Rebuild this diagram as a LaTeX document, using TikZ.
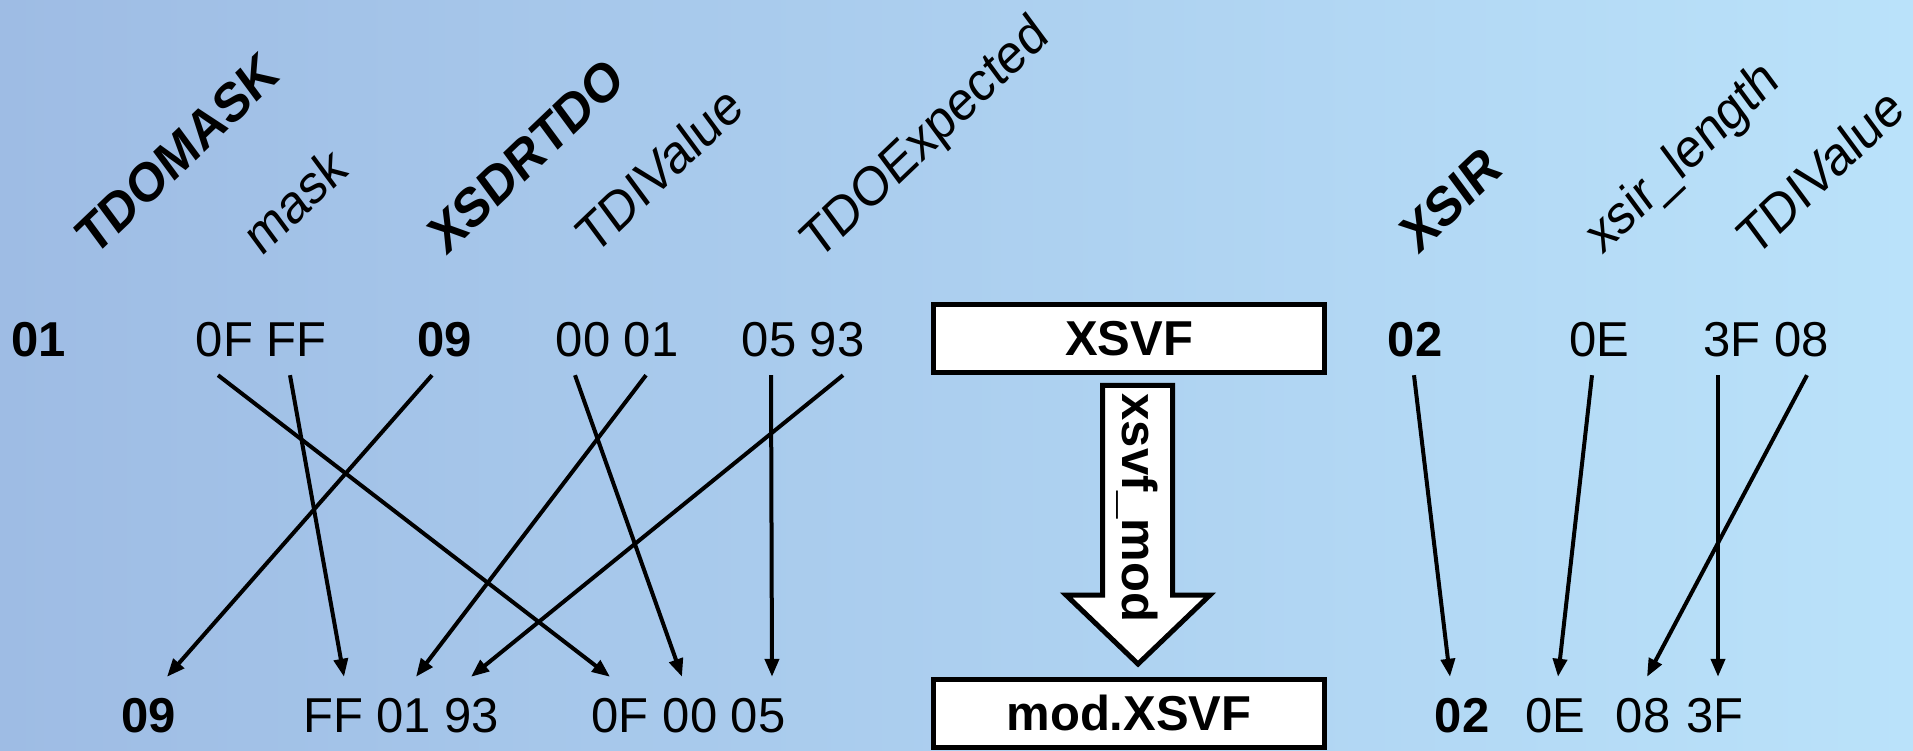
\documentclass[tikz,border=0pt]{standalone}
\usepackage{fontspec}
\setmainfont{Liberation Sans}
\usetikzlibrary{arrows.meta}
\definecolor{bgl}{RGB}{158,188,228}
\definecolor{bgr}{RGB}{186,226,250}
\begin{document}
\begin{tikzpicture}[x=1pt,y=1pt,
  num/.style={inner sep=0pt, anchor=base, font=\fontsize{49}{55}\selectfont, text height=36pt, text depth=0pt},
  numb/.style={num, font=\fontsize{49}{55}\selectfont\bfseries},
  lab/.style={inner sep=0pt, anchor=base west, xscale=0.88, rotate=40, font=\fontsize{55}{60}\selectfont},
  labb/.style={lab, font=\fontsize{55}{60}\selectfont\bfseries},
  conn/.style={line width=4pt, -{Triangle[length=18pt,width=14pt]}},
  box/.style={draw, line width=5pt, fill=white, minimum width=391pt, minimum height=68pt, inner sep=0pt, font=\fontsize{49}{55}\selectfont\bfseries},
  bigarrow/.style={draw, line width=5pt, fill=white, miter limit=10}
]
\useasboundingbox (0,0) rectangle (1913,750);
\shade[left color=bgl, right color=bgr] (0,0) rectangle (1913,750);

% rotated headers
\node[labb] (hTDOMASK) at (94,492) {TDOMASK};
\node[lab]  (hmask) at (261,492) {mask};
\node[labb] (hXSDRTDO) at (446,493) {XSDRTDO};
\node[lab]  (hTDIa) at (594,493) {TDIValue};
\node[lab]  (hTDOE) at (818,488) {TDOExpected};
\node[labb] (hXSIR) at (1418,494) {XSIR};
\node[lab]  (hxsirl) at (1602,494) {xsir\_length};
\node[lab]  (hTDIb) at (1755,491) {TDIValue};

% top row
\node[numb] (a01) at (39,393) {01};
\node[num] (a0F) at (224.5,393) {0F};
\node[num] (aFF) at (296.5,393) {FF};
\node[numb] (a09) at (445,393) {09};
\node[num] (a00) at (583,393) {00};
\node[num] (a01b) at (651,393) {01};
\node[num] (a05) at (769,393) {05};
\node[num] (a93) at (837,393) {93};
\node[numb] (a02) at (1415,393) {02};
\node[num] (a0E) at (1599,393) {0E};
\node[num] (a3F) at (1732,393) {3F};
\node[num] (a08) at (1801.5,393) {08};

% bottom row
\node[numb] (b09) at (149,18) {09};
\node[num] (bFF) at (333,18) {FF};
\node[num] (b01) at (404,18) {01};
\node[num] (b93) at (472,18) {93};
\node[num] (b0F) at (620,18) {0F};
\node[num] (b00) at (690,18) {00};
\node[num] (b05) at (758,18) {05};
\node[numb] (b02) at (1462,18) {02};
\node[num] (b0E) at (1555,18) {0E};
\node[num] (b08) at (1643,18) {08};
\node[num] (b3F) at (1715,18) {3F};

% connectors
\draw[conn] ([xshift=-6.5pt,yshift=-18pt]a0F.south) -- ([xshift=-10pt,yshift=19pt]b0F.north);
\draw[conn] ([xshift=-6.5pt,yshift=-18pt]aFF.south) -- ([xshift=11pt,yshift=19pt]bFF.north);
\draw[conn] ([xshift=-13pt,yshift=-18pt]a09.south) -- ([xshift=18pt,yshift=19pt]b09.north);
\draw[conn] ([xshift=-8pt,yshift=-18pt]a00.south) -- ([xshift=-8pt,yshift=19pt]b00.north);
\draw[conn] ([xshift=-5pt,yshift=-18pt]a01b.south) -- ([xshift=12pt,yshift=19pt]b01.north);
\draw[conn] ([xshift=2pt,yshift=-18pt]a05.south) -- ([xshift=14pt,yshift=19pt]b05.north);
\draw[conn] ([xshift=6pt,yshift=-18pt]a93.south) -- ([xshift=-1pt,yshift=19pt]b93.north);
\draw[conn] ([xshift=-1pt,yshift=-18pt]a02.south) -- ([xshift=-12pt,yshift=19pt]b02.north);
\draw[conn] ([xshift=-7pt,yshift=-18pt]a0E.south) -- ([xshift=3pt,yshift=19pt]b0E.north);
\draw[conn] ([xshift=-14pt,yshift=-18pt]a3F.south) -- ([xshift=3pt,yshift=19pt]b3F.north);
\draw[conn] ([xshift=5.5pt,yshift=-18pt]a08.south) -- ([xshift=4pt,yshift=19pt]b08.north);

% boxes
\node[box] (xsvf) at (1129,411.5) {XSVF};
\node[box] (modx) at (1129,37) {mod.XSVF};

% big hollow arrow
\draw[bigarrow] (1102.5,364.5) -- (1172.5,364.5) -- (1172.5,155) -- (1210,155)
  -- (1138,86) -- (1066,155) -- (1102.5,155) -- cycle;
\node[rotate=-90, inner sep=0pt, font=\fontsize{49}{55}\selectfont\bfseries] (xmod) at (1137,242) {xsvf\_mod};
\end{tikzpicture}
\end{document}
